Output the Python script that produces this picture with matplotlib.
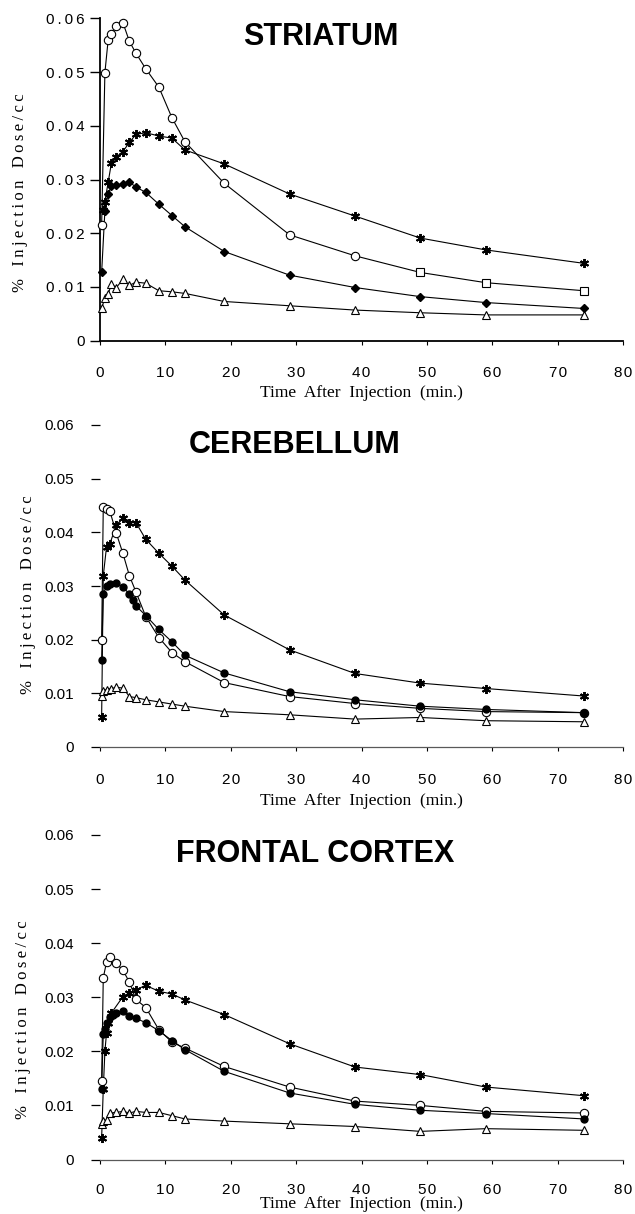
import numpy as np
import matplotlib
matplotlib.use("Agg")
import matplotlib.pyplot as plt

W, H = 635, 1214

# ---------------- data ----------------
x_ticks = [0, 10, 20, 30, 40, 50, 60, 70, 80]
y_ticks = [0, 0.01, 0.02, 0.03, 0.04, 0.05, 0.06]
y_tick_labels = ["0", "0.01", "0.02", "0.03", "0.04", "0.05", "0.06"]
titles = ["STRIATUM", "CEREBELLUM", "FRONTAL CORTEX"]
x_label = "Time After Injection (min.)"
y_label = "% Injection Dose/cc"

# Striatum
str_circ_t = [0.25, 0.75, 1.25, 1.75, 2.5, 3.5, 4.5, 5.5, 7, 9, 11, 13, 19, 29, 39, 49, 59, 74]
str_circ_v = [0.0215, 0.0499, 0.0560, 0.0570, 0.0585, 0.0592, 0.0557, 0.0535, 0.0506, 0.0472, 0.0415, 0.0370,
              0.0293, 0.0197, 0.0158, 0.0127, 0.0108, 0.0093]
str_star_t = [0.5, 0.75, 1.25, 1.75, 2.5, 3.5, 4.5, 5.5, 7, 9, 11, 13, 19, 29, 39, 49, 59, 74]
str_star_v = [0.0243, 0.0259, 0.0295, 0.0331, 0.0342, 0.0352, 0.0369, 0.0384, 0.0387, 0.0381, 0.0377, 0.0355,
              0.0329, 0.0273, 0.0232, 0.0191, 0.0169, 0.0144]
str_fill_t = [0.25, 0.75, 1.25, 1.75, 2.5, 3.5, 4.5, 5.5, 7, 9, 11, 13, 19, 29, 39, 49, 59, 74]
str_fill_v = [0.0127, 0.0242, 0.0273, 0.0288, 0.0289, 0.0292, 0.0295, 0.0286, 0.0276, 0.0254, 0.0233, 0.0212,
              0.0166, 0.0122, 0.0099, 0.0082, 0.0071, 0.0060]
str_tri_t = [0.25, 0.75, 1.25, 1.75, 2.5, 3.5, 4.5, 5.5, 7, 9, 11, 13, 19, 29, 39, 49, 59, 74]
str_tri_v = [0.0060, 0.0080, 0.0087, 0.0105, 0.0099, 0.0114, 0.0103, 0.0109, 0.0107, 0.0093, 0.0091, 0.0088,
             0.0073, 0.0065, 0.0057, 0.0052, 0.0048, 0.0048]

# Cerebellum
cer_circ_t = [0.25, 0.5, 1.0, 1.5, 2.5, 3.5, 4.5, 5.5, 7, 9, 11, 13, 19, 29, 39, 49, 59, 74]
cer_circ_v = [0.0199, 0.0448, 0.0444, 0.0440, 0.0398, 0.0361, 0.0319, 0.0289, 0.0243, 0.0204, 0.0176, 0.0159,
              0.0120, 0.0094, 0.0081, 0.0072, 0.0066, 0.0064]
cer_star_t = [0.25, 0.5, 1.0, 1.5, 2.5, 3.5, 4.5, 5.5, 7, 9, 11, 13, 19, 29, 39, 49, 59, 74]
cer_star_v = [0.0055, 0.0319, 0.0373, 0.0378, 0.0414, 0.0426, 0.0418, 0.0418, 0.0387, 0.0361, 0.0337, 0.0311,
              0.0246, 0.0181, 0.0137, 0.0119, 0.0109, 0.0095]
cer_fill_t = [0.25, 0.5, 1.0, 1.5, 2.5, 3.5, 4.5, 5.0, 5.5, 7, 9, 11, 13, 19, 29, 39, 49, 59, 74]
cer_fill_v = [0.0162, 0.0285, 0.0300, 0.0303, 0.0306, 0.0298, 0.0285, 0.0274, 0.0263, 0.0245, 0.0219, 0.0196,
              0.0171, 0.0138, 0.0103, 0.0088, 0.0076, 0.0070, 0.0064]
cer_tri_t = [0.25, 0.5, 1.0, 1.75, 2.5, 3.5, 4.5, 5.5, 7, 9, 11, 13, 19, 29, 39, 49, 59, 74]
cer_tri_v = [0.0095, 0.0105, 0.0107, 0.0109, 0.0111, 0.0110, 0.0094, 0.0092, 0.0088, 0.0084, 0.0080, 0.0076,
             0.0066, 0.0060, 0.0052, 0.0055, 0.0049, 0.0047]

# Frontal cortex
fro_circ_t = [0.25, 0.5, 1.0, 1.5, 2.5, 3.5, 4.5, 5.5, 7, 9, 11, 13, 19, 29, 39, 49, 59, 74]
fro_circ_v = [0.0145, 0.0336, 0.0365, 0.0375, 0.0363, 0.0350, 0.0328, 0.0296, 0.0281, 0.0240, 0.0217, 0.0206,
              0.0172, 0.0134, 0.0108, 0.0100, 0.0089, 0.0086]
fro_star_t = [0.25, 0.5, 0.75, 1.0, 1.25, 1.75, 3.5, 4.5, 5.5, 7, 9, 11, 13, 19, 29, 39, 49, 59, 74]
fro_star_v = [0.0040, 0.0130, 0.0200, 0.0234, 0.0252, 0.0271, 0.0301, 0.0308, 0.0314, 0.0322, 0.0311, 0.0306,
              0.0295, 0.0268, 0.0214, 0.0171, 0.0157, 0.0134, 0.0118]
fro_fill_t = [0.25, 0.5, 0.75, 1.0, 1.5, 2.0, 2.5, 3.5, 4.5, 5.5, 7, 9, 11, 13, 19, 29, 39, 49, 59, 74]
fro_fill_v = [0.0130, 0.0232, 0.0242, 0.0253, 0.0263, 0.0268, 0.0271, 0.0274, 0.0266, 0.0261, 0.0253, 0.0238,
              0.0220, 0.0203, 0.0163, 0.0123, 0.0102, 0.0091, 0.0085, 0.0075]
fro_tri_t = [0.25, 0.5, 1.0, 1.5, 2.5, 3.5, 4.5, 5.5, 7, 9, 11, 13, 19, 29, 39, 49, 59, 74]
fro_tri_v = [0.0065, 0.0071, 0.0073, 0.0086, 0.0087, 0.0089, 0.0086, 0.0089, 0.0087, 0.0087, 0.0081, 0.0075,
             0.0071, 0.0066, 0.0061, 0.0052, 0.0057, 0.0054]

# squares replace circles for the late striatum points
str_square_after = 45

panels = [
    dict(circ=(str_circ_t, str_circ_v), star=(str_star_t, str_star_v),
         fill=(str_fill_t, str_fill_v), tri=(str_tri_t, str_tri_v)),
    dict(circ=(cer_circ_t, cer_circ_v), star=(cer_star_t, cer_star_v),
         fill=(cer_fill_t, cer_fill_v), tri=(cer_tri_t, cer_tri_v)),
    dict(circ=(fro_circ_t, fro_circ_v), star=(fro_star_t, fro_star_v),
         fill=(fro_fill_t, fro_fill_v), tri=(fro_tri_t, fro_tri_v)),
]

# ---------------- layout (pixels) ----------------
ax_left, ax_right = 100, 623
ax_vert = [(18.3, 340.7), (425, 747), (835, 1159.5)]          # top(0.06), bottom(0)
title_pos = [(321, 45), (295, 453), (315, 862)]               # centre x, baseline y
xlabel_base = [397, 805, 1208]
ylabel_pos = [(20, 193), (28, 595), (23, 1020)]
xtick_pad = [15, 15.5, 13.7]

SANS = ["Liberation Sans", "DejaVu Sans"]
SERIF = ["Liberation Serif", "DejaVu Serif"]
THIN = "\u2009"
HAIR = "\u200a"


def spaced(s, sep=THIN):
    return sep.join(list(s))


fig = plt.figure(figsize=(W / 100, H / 100), dpi=100)
fig.patch.set_facecolor("white")

for i, p in enumerate(panels):
    top, bot = ax_vert[i]
    ax = fig.add_axes([ax_left / W, 1 - bot / H, (ax_right - ax_left) / W, (bot - top) / H])
    ax.set_xlim(0, 80)
    ax.set_ylim(0, 0.06)
    ax.set_facecolor("white")
    for s in ("top", "right"):
        ax.spines[s].set_visible(False)
    if i == 0:
        ax.spines["left"].set_linewidth(1.3)
        ax.spines["bottom"].set_linewidth(1.3)
        ylabels = [spaced(l) for l in y_tick_labels]
        ax.tick_params(axis="y", length=7.2, width=1.0, pad=3.6)
    else:
        ax.spines["left"].set_visible(False)
        ax.spines["bottom"].set_linewidth(0.9)
        ax.spines["bottom"].set_color("0.35")
        ylabels = y_tick_labels
        ax.tick_params(axis="y", length=6.5, width=0.9, pad=12)
    ax.tick_params(axis="x", length=3, width=0.8, pad=xtick_pad[i])
    ax.set_yticks(y_ticks)
    ax.set_yticklabels(ylabels, fontfamily=SANS, fontsize=11)
    ax.set_xticks(x_ticks)
    ax.set_xticklabels([spaced(str(x), HAIR) for x in x_ticks], fontfamily=SANS, fontsize=11)

    lw = 0.8
    # circles (open)
    t, v = np.array(p["circ"][0]), np.array(p["circ"][1])
    ax.plot(t, v, color="k", lw=lw, zorder=2, clip_on=False)
    if i == 0:
        m = t > str_square_after
        ax.plot(t[~m], v[~m], ls="none", marker="o", ms=6, mfc="white", mec="k", mew=0.8, zorder=3, clip_on=False)
        ax.plot(t[m], v[m], ls="none", marker="s", ms=5.5, mfc="white", mec="k", mew=0.8, zorder=3, clip_on=False)
    else:
        ax.plot(t, v, ls="none", marker="o", ms=6, mfc="white", mec="k", mew=0.8, zorder=3, clip_on=False)
    # asterisks
    t, v = p["star"]
    ax.plot(t, v, color="k", lw=lw, zorder=2, clip_on=False)
    ax.plot(t, v, ls="none", marker=(6, 2, 0), ms=6.5, mec="k", mew=1.4, zorder=4, clip_on=False)
    # filled
    t, v = p["fill"]
    ax.plot(t, v, color="k", lw=lw, zorder=2, clip_on=False)
    if i == 0:
        ax.plot(t, v, ls="none", marker="D", ms=4.5, mfc="k", mec="k", zorder=4, clip_on=False)
    else:
        ax.plot(t, v, ls="none", marker="o", ms=5, mfc="k", mec="k", zorder=4, clip_on=False)
    # triangles
    t, v = p["tri"]
    ax.plot(t, v, color="k", lw=lw, zorder=2, clip_on=False)
    ax.plot(t, v, ls="none", marker="^", ms=5.5, mfc="white", mec="k", mew=0.8, zorder=3, clip_on=False)

    # title
    tx, ty = title_pos[i]
    fig.text(tx / W, 1 - ty / H, titles[i], ha="center", va="baseline",
             fontfamily=SANS, fontweight="bold", fontsize=22)
    # x label
    fig.text(361.5 / W, 1 - xlabel_base[i] / H, x_label.replace(" ", "  "), ha="center", va="baseline",
             fontfamily=SERIF, fontsize=12.5)
    # y label
    lx, ly = ylabel_pos[i]
    ytxt = "   ".join(spaced(w) for w in y_label.split(" "))
    fig.text(lx / W, 1 - ly / H, ytxt, ha="center", va="center", rotation=90,
             fontfamily=SERIF, fontsize=12)

fig.savefig("out.png", dpi=100, facecolor="white")
